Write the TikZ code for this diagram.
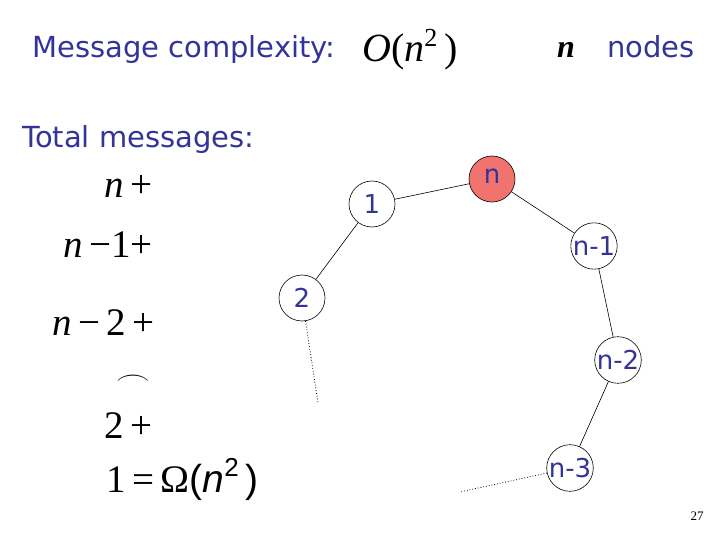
\documentclass[tikz,border=0pt]{standalone}
\usepackage{fontspec}
\setmainfont{DejaVu Sans}
\newfontfamily\tms{Liberation Serif}
\newfontfamily\lsans{Liberation Sans}
\definecolor{txtblue}{RGB}{51,51,153}
\definecolor{salmon}{RGB}{240,115,110}
\begin{document}
\begin{tikzpicture}[x=1pt,y=-1pt,
  title/.style={inner sep=0pt,anchor=base west,text=txtblue,font=\fontsize{29}{32}\selectfont},
  formula/.style={inner sep=0pt,font=\tms\fontsize{39}{42}\selectfont},
  ringnode/.style={circle,draw=black,line width=0.6pt,fill=white,minimum size=46pt,inner sep=0pt,text=txtblue,font=\fontsize{26}{28}\selectfont},
  link/.style={draw=black,line width=0.6pt},
  dotlink/.style={draw=black,line width=0.8pt,dotted}]
\useasboundingbox (0,0) rectangle (720,540);
% header
\node[title] (mc) at (32,58) {Message complexity:};
\node[inner sep=0pt,anchor=base west,font=\tms\fontsize{40}{44}\selectfont] (onsq) at (362,62) {\itshape O\upshape(\itshape n\upshape\raisebox{15pt}{\fontsize{26}{28}\selectfont 2}\,)};
\node[inner sep=0pt,anchor=base west,font=\tms\bfseries\itshape\fontsize{32}{34}\selectfont] (nvar) at (557,58) {n};
\node[title] (nodes) at (607,58) {nodes};
\node[title] (tm) at (22,148) {Total messages:};
% sum
\node[formula,anchor=base east] (s1) at (153,197) {\itshape n\upshape\,+};
\node[formula,anchor=base east] (s2) at (153,258) {\itshape n\upshape\,−1+};
\node[formula,anchor=base east] (s3) at (155,335) {\itshape n\upshape\,−\,2\,+};
\node[inner sep=0pt,font=\fontsize{28}{28}\selectfont] (dots) at (133,380) {\scalebox{1.4}[1]{$\frown$}};
\node[formula,anchor=base east] (s4) at (153,438) {2\,+};
\node[formula,anchor=base west] (s5) at (106,492) {1\,=\,Ω\lsans(\itshape n\upshape\raisebox{16pt}{\fontsize{26}{28}\selectfont 2}\,)};
% ring
\node[ringnode] (v1) at (372,204) {1};
\node[ringnode,fill=salmon] (vn) at (492,179) {\raisebox{6pt}{n}};
\node[ringnode] (vn1) at (594,246) {n-1};
\node[ringnode] (v2) at (302,298) {2};
\node[ringnode] (vn2) at (618,360) {n-2};
\node[ringnode] (vn3) at (570,468) {n-3};
\coordinate (e2) at (318,403);
\coordinate (e3) at (460,492);
\draw[link] (v1) -- (vn);
\draw[link] (v1) -- (v2);
\draw[link] (vn) -- (vn1);
\draw[link] (vn1) -- (vn2);
\draw[link] (vn2) -- (vn3);
\draw[dotlink] (v2) -- (e2);
\draw[dotlink] (vn3) -- (e3);
% page number
\node[inner sep=0pt,font=\tms\fontsize{13}{14}\selectfont] (pg) at (697,516) {27};
\end{tikzpicture}
\end{document}
